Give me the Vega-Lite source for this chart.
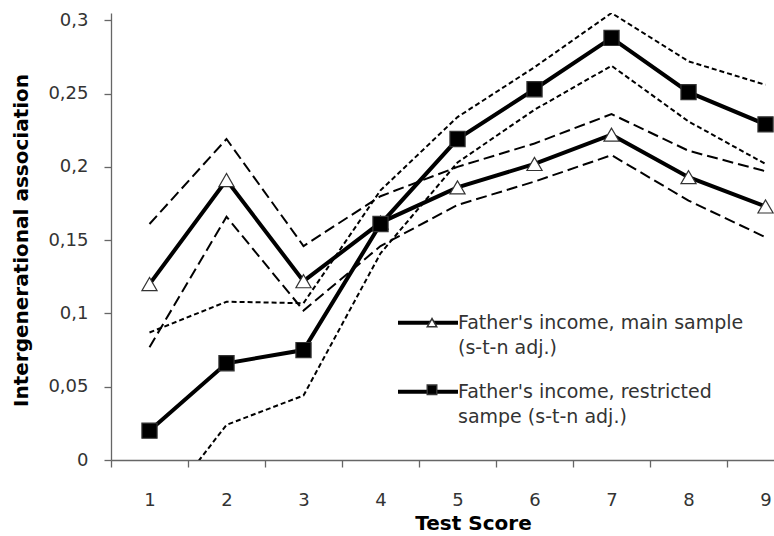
{
  "$schema": "https://vega.github.io/schema/vega-lite/v6.json",
  "width": 663,
  "height": 447,
  "autosize": {"type": "none"},
  "padding": {"left": 111, "top": 13, "right": 0, "bottom": 76},
  "background": "white",
  "config": {
    "view": {"stroke": null},
    "font": "DejaVu Sans",
    "style": {"guide-label": {"lineHeight": 25.5}}
  },
  "data": {
    "values": [
      {"score": 1, "series": "main", "est": 0.120, "lo": 0.077, "hi": 0.161},
      {"score": 2, "series": "main", "est": 0.191, "lo": 0.166, "hi": 0.219},
      {"score": 3, "series": "main", "est": 0.122, "lo": 0.102, "hi": 0.146},
      {"score": 4, "series": "main", "est": 0.162, "lo": 0.146, "hi": 0.180},
      {"score": 5, "series": "main", "est": 0.186, "lo": 0.174, "hi": 0.200},
      {"score": 6, "series": "main", "est": 0.202, "lo": 0.190, "hi": 0.216},
      {"score": 7, "series": "main", "est": 0.222, "lo": 0.208, "hi": 0.236},
      {"score": 8, "series": "main", "est": 0.193, "lo": 0.177, "hi": 0.211},
      {"score": 9, "series": "main", "est": 0.173, "lo": 0.152, "hi": 0.197},
      {"score": 1, "series": "restricted", "est": 0.020, "lo": -0.044, "hi": 0.087},
      {"score": 2, "series": "restricted", "est": 0.066, "lo": 0.024, "hi": 0.108},
      {"score": 3, "series": "restricted", "est": 0.075, "lo": 0.044, "hi": 0.107},
      {"score": 4, "series": "restricted", "est": 0.161, "lo": 0.141, "hi": 0.184},
      {"score": 5, "series": "restricted", "est": 0.219, "lo": 0.203, "hi": 0.234},
      {"score": 6, "series": "restricted", "est": 0.253, "lo": 0.239, "hi": 0.268},
      {"score": 7, "series": "restricted", "est": 0.288, "lo": 0.269, "hi": 0.305},
      {"score": 8, "series": "restricted", "est": 0.251, "lo": 0.231, "hi": 0.272},
      {"score": 9, "series": "restricted", "est": 0.229, "lo": 0.202, "hi": 0.256}
    ]
  },
  "transform": [{"fold": ["est", "lo", "hi"], "as": ["kind", "val"]}],
  "encoding": {
    "x": {
      "field": "score",
      "type": "quantitative",
      "scale": {"domain": [0.5, 9.11], "nice": false, "zero": false},
      "axis": {
        "values": [0.5, 1.5, 2.5, 3.5, 4.5, 5.5, 6.5, 7.5, 8.5],
        "labelExpr": "format(datum.value + 0.5, 'd')",
        "labelOffset": 38.5,
        "labelFlush": false,
        "labelOverlap": false,
        "tickSize": 7,
        "labelPadding": 24,
        "grid": false,
        "title": "Test Score",
        "titleX": 362,
        "titleY": 69,
        "titleAlign": "center",
        "titleBaseline": "alphabetic",
        "titleFontSize": 20,
        "titleFontWeight": "bold",
        "titleColor": "black",
        "labelFontSize": 18,
        "labelColor": "#333",
        "domainColor": "#666",
        "tickColor": "#666",
        "domainWidth": 1.3,
        "tickWidth": 1.3
      }
    },
    "y": {
      "field": "val",
      "type": "quantitative",
      "scale": {"domain": [0, 0.305], "nice": false, "zero": false},
      "axis": {
        "values": [0, 0.05, 0.1, 0.15, 0.2, 0.25, 0.3],
        "format": ".2~f",
        "labelExpr": "replace(datum.label, '.', ',')",
        "tickSize": 7,
        "labelPadding": 16,
        "grid": false,
        "title": "Intergenerational association",
        "titleX": -84,
        "titleY": 227,
        "titleAngle": 270,
        "titleAlign": "center",
        "titleBaseline": "alphabetic",
        "titleFontSize": 20,
        "titleFontWeight": "bold",
        "titleColor": "black",
        "labelFontSize": 18,
        "labelColor": "#333",
        "domainColor": "#666",
        "tickColor": "#666",
        "domainWidth": 1.3,
        "tickWidth": 1.3
      }
    }
  },
  "layer": [
    {
      "transform": [{"filter": "datum.series == 'main' && datum.kind != 'est'"}],
      "mark": {"type": "line", "color": "black", "strokeWidth": 2, "strokeDash": [11, 5], "clip": true},
      "encoding": {"detail": {"field": "kind"}}
    },
    {
      "transform": [{"filter": "datum.series == 'restricted' && datum.kind != 'est'"}],
      "mark": {"type": "line", "color": "black", "strokeWidth": 2, "strokeDash": [5, 3], "clip": true},
      "encoding": {"detail": {"field": "kind"}}
    },
    {
      "transform": [{"filter": "datum.kind == 'est'"}],
      "mark": {"type": "line", "strokeWidth": 4, "clip": true},
      "encoding": {
        "stroke": {
          "field": "series",
          "type": "nominal",
          "scale": {"range": ["black", "black"]},
          "legend": {
            "orient": "none",
            "legendX": 285,
            "legendY": 297.7,
            "title": null,
            "padding": 0,
            "symbolType": "stroke",
            "symbolSize": 3600,
            "symbolStrokeWidth": 4,
            "clipHeight": 24,
            "labelExpr": "datum.value == 'main' ? [\"Father's income, main sample\", \"(s-t-n adj.)\"] : [\"Father's income, restricted\", \"sampe (s-t-n adj.)\"]",
            "labelFontSize": 19,
            "labelColor": "#333",
            "labelOffset": -2,
            "labelLimit": 0,
            "rowPadding": 21,
            "zindex": 1
          }
        }
      }
    },
    {
      "transform": [{"filter": "datum.kind == 'est'"}],
      "mark": {"type": "point", "filled": true, "size": 230, "stroke": "#333", "strokeWidth": 1.2, "opacity": 1},
      "encoding": {
        "shape": {
          "field": "series",
          "type": "nominal",
          "scale": {"domain": ["main", "restricted"], "range": ["triangle-up", "square"]},
          "legend": {
            "orient": "none",
            "legendX": 311.5,
            "legendY": 297.7,
            "title": null,
            "padding": 0,
            "symbolSize": 90,
            "clipHeight": 24,
            "labelExpr": "''",
            "labelFontSize": 19,
            "labelLimit": 0,
            "rowPadding": 43,
            "zindex": 2,
            "encode": {"symbols": {"update": {"stroke": {"value": "#222"}, "strokeWidth": {"value": 1}}}}
          }
        },
        "fill": {
          "field": "series",
          "type": "nominal",
          "scale": {"domain": ["main", "restricted"], "range": ["white", "black"]},
          "legend": {
            "orient": "none",
            "legendX": 311.5,
            "legendY": 297.7,
            "title": null,
            "padding": 0,
            "symbolSize": 90,
            "clipHeight": 24,
            "labelExpr": "''",
            "labelFontSize": 19,
            "labelLimit": 0,
            "rowPadding": 43,
            "zindex": 2,
            "encode": {"symbols": {"update": {"stroke": {"value": "#222"}, "strokeWidth": {"value": 1}}}}
          }
        }
      }
    }
  ]
}
